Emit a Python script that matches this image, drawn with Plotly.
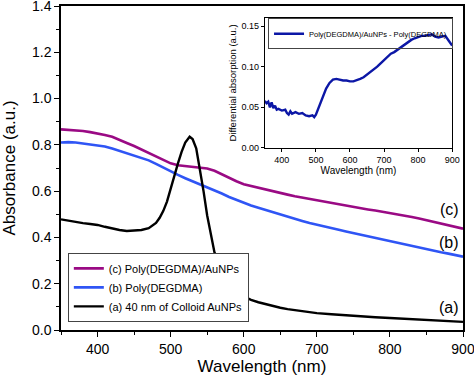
import plotly.graph_objects as go

# ---------------- data ----------------
wl_main = [350, 360, 370, 380, 390, 400, 410, 420, 430, 440, 450, 460, 470, 480, 490,
           500, 510, 520, 530, 540, 550, 560, 570, 580, 590, 600, 610, 620, 630, 640,
           650, 660, 670, 680, 690, 700, 710, 720, 730, 740, 750, 760, 770, 780, 790,
           800, 810, 820, 830, 840, 850, 860, 870, 880, 890, 900]

abs_c = [0.867, 0.865, 0.862, 0.860, 0.855, 0.850, 0.843, 0.835, 0.823, 0.808, 0.795,
         0.780, 0.765, 0.750, 0.735, 0.720, 0.712, 0.708, 0.706, 0.703, 0.698, 0.688,
         0.672, 0.657, 0.643, 0.630, 0.622, 0.615, 0.607, 0.600, 0.593, 0.585, 0.578,
         0.572, 0.566, 0.560, 0.555, 0.549, 0.543, 0.537, 0.532, 0.527, 0.521, 0.516,
         0.511, 0.505, 0.500, 0.494, 0.488, 0.482, 0.475, 0.468, 0.461, 0.454, 0.447, 0.438]

abs_b = [0.810, 0.812, 0.810, 0.806, 0.803, 0.800, 0.793, 0.784, 0.774, 0.765, 0.756,
         0.745, 0.733, 0.718, 0.701, 0.684, 0.670, 0.656, 0.643, 0.630, 0.618, 0.603,
         0.590, 0.575, 0.562, 0.548, 0.538, 0.528, 0.518, 0.508, 0.498, 0.489, 0.480,
         0.471, 0.462, 0.454, 0.447, 0.440, 0.433, 0.426, 0.419, 0.411, 0.404, 0.396,
         0.389, 0.383, 0.376, 0.369, 0.362, 0.355, 0.349, 0.343, 0.336, 0.330, 0.324, 0.317]

wl_a = [350, 360, 370, 380, 390, 400, 410, 420, 430, 440, 450, 460, 470, 475, 480, 485,
        490, 495, 500, 505, 510, 515, 520, 526, 530, 535, 540, 545, 550, 555, 560, 565,
        570, 575, 580, 590, 600, 610, 620, 630, 640, 650, 660, 670, 680, 690, 700, 720,
        740, 760, 780, 800, 820, 840, 860, 880, 900]
abs_a = [0.478, 0.472, 0.467, 0.462, 0.458, 0.454, 0.446, 0.438, 0.432, 0.428, 0.429,
         0.432, 0.440, 0.450, 0.463, 0.485, 0.515, 0.555, 0.610, 0.675, 0.720, 0.770,
         0.810, 0.835, 0.825, 0.785, 0.700, 0.600, 0.495, 0.410, 0.335, 0.290, 0.255,
         0.225, 0.200, 0.165, 0.145, 0.130, 0.120, 0.111, 0.103, 0.096, 0.090, 0.085,
         0.080, 0.076, 0.073, 0.068, 0.063, 0.059, 0.055, 0.052, 0.049, 0.046, 0.042,
         0.039, 0.035]

wl_inset = [350, 355, 360, 365, 370, 375, 380, 385, 390, 400, 410, 415, 420, 425, 430,
            440, 450, 460, 470, 480, 490, 495, 500, 505, 510, 520, 530, 540, 550, 560,
            570, 580, 590, 600, 610, 620, 630, 640, 650, 660, 670, 680, 690, 700, 710,
            720, 730, 740, 750, 760, 770, 780, 790, 800, 810, 820, 830, 840, 850, 860,
            870, 880, 890, 900]
diff_abs = [0.058, 0.055, 0.057, 0.050, 0.056, 0.049, 0.052, 0.047, 0.048, 0.046, 0.047,
            0.043, 0.041, 0.045, 0.042, 0.044, 0.042, 0.043, 0.040, 0.039, 0.040, 0.038,
            0.041, 0.046, 0.053, 0.063, 0.073, 0.080, 0.084, 0.085, 0.084, 0.083, 0.083,
            0.082, 0.082, 0.084, 0.085, 0.087, 0.090, 0.093, 0.096, 0.100, 0.104, 0.108,
            0.113, 0.116, 0.118, 0.121, 0.125, 0.128, 0.131, 0.133, 0.135, 0.137, 0.138,
            0.138, 0.139, 0.140, 0.137, 0.136, 0.137, 0.138, 0.132, 0.126]

names = ["(c) Poly(DEGDMA)/AuNPs", "(b) Poly(DEGDMA)", "(a) 40 nm of Colloid AuNPs"]
inset_name = "Poly(DEGDMA)/AuNPs - Poly(DEGDMA)"
curve_labels = ["(c)", "(b)", "(a)"]
label_x = 881
label_y = [0.519, 0.376, 0.099]

# ---------------- figure ----------------
FONT = "Liberation Sans, Arial, sans-serif"
C_MAG = "#9a0a84"
C_BLUE = "#2f55f5"
C_BLACK = "#000000"
C_INSET = "#0c17a6"

fig = go.Figure()
fig.add_trace(go.Scatter(x=wl_main, y=abs_c, mode="lines", name=names[0],
                         line=dict(color=C_MAG, width=2.6), legend="legend"))
fig.add_trace(go.Scatter(x=wl_main, y=abs_b, mode="lines", name=names[1],
                         line=dict(color=C_BLUE, width=2.6), legend="legend"))
fig.add_trace(go.Scatter(x=wl_a, y=abs_a, mode="lines", name=names[2],
                         line=dict(color=C_BLACK, width=2.4), legend="legend"))
fig.add_trace(go.Scatter(x=wl_inset, y=diff_abs, mode="lines", name=inset_name,
                         line=dict(color=C_INSET, width=2.4),
                         xaxis="x2", yaxis="y2", legend="legend2"))

for t, yy in zip(curve_labels, label_y):
    fig.add_annotation(x=label_x, y=yy, text=t, showarrow=False, xref="x", yref="y",
                       font=dict(family=FONT, size=16, color="black"))

axis_common = dict(showgrid=False, zeroline=False, showline=True, linecolor="black",
                   mirror=True, ticks="outside", tickcolor="black", automargin=False,
                   ticklabeloverflow="allow")

fig.update_layout(
    width=474, height=381,
    margin=dict(l=61, r=11, t=6, b=51),
    paper_bgcolor="white", plot_bgcolor="white",
    font=dict(family=FONT, color="black"),
    xaxis=dict(**axis_common, range=[350, 900], dtick=100, tick0=400,
               linewidth=1.5, ticklen=5, tickwidth=1.2,
               minor=dict(dtick=50, ticks="outside", ticklen=3, tickcolor="black"),
               tickfont=dict(size=14),
               title=dict(text="Wavelength (nm)", font=dict(size=17), standoff=4)),
    yaxis=dict(**axis_common, range=[0, 1.4001], dtick=0.2, tickformat=".1f",
               linewidth=1.5, ticklen=5, tickwidth=1.2,
               minor=dict(dtick=0.1, ticks="outside", ticklen=3, tickcolor="black"),
               tickfont=dict(size=14),
               title=dict(text="Absorbance (a.u.)", font=dict(size=17), standoff=12)),
    xaxis2=dict(**axis_common, domain=[0.507, 0.973], anchor="y2", range=[350, 900],
                dtick=100, tick0=400, linewidth=1, ticklen=3,
                tickfont=dict(size=9),
                title=dict(text="Wavelength (nm)", font=dict(size=10), standoff=3)),
    yaxis2=dict(**axis_common, domain=[0.562, 0.963], anchor="x2", range=[0, 0.16],
                dtick=0.05, tickformat=".2f", linewidth=1, ticklen=3,
                tickfont=dict(size=9),
                title=dict(text="Differential absorption (a.u.)", font=dict(size=9.5),
                           standoff=3)),
    legend=dict(x=0.017, y=0.025, xanchor="left", yanchor="bottom",
                bgcolor="white", bordercolor="#444", borderwidth=1,
                font=dict(size=11), tracegroupgap=0, itemwidth=30,
                traceorder="normal"),
    legend2=dict(x=0.515, y=0.962, xanchor="left", yanchor="top",
                 bgcolor="rgba(255,255,255,0)", bordercolor="#444", borderwidth=1,
                 font=dict(size=7.5), itemwidth=30),
    showlegend=True,
)

fig.write_html("out.html", config={"displayModeBar": False},
               post_script="document.body.style.margin='0px';")
